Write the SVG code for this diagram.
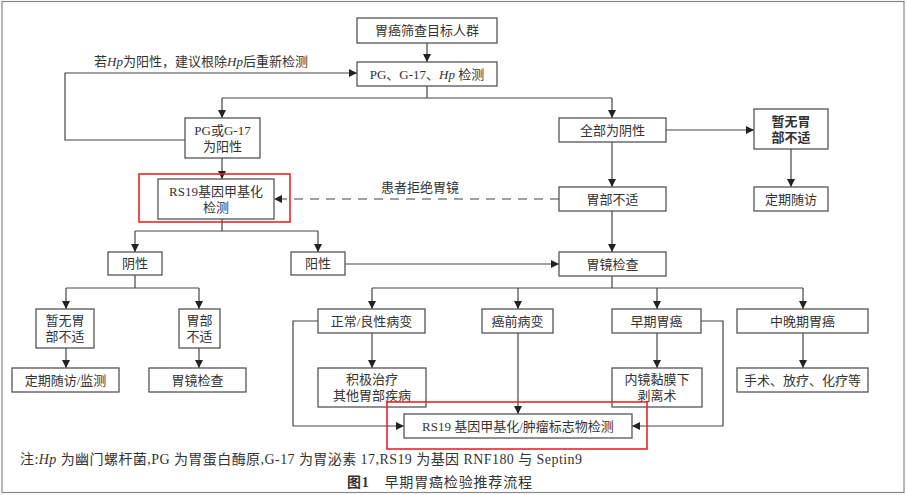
<svg xmlns="http://www.w3.org/2000/svg" width="907" height="495" viewBox="0 0 907 495">
<defs>
<marker id="arr" viewBox="0 0 10 10" refX="10" refY="5" markerWidth="8" markerHeight="8" markerUnits="userSpaceOnUse" orient="auto">
<path d="M0,0 L10,5 L0,10 z" fill="#222"/>
</marker>
<style>
.b{fill:#fff;stroke:#555;stroke-width:1.3}
.t{font-family:"Liberation Serif","Noto Sans CJK SC",serif;font-size:13px;fill:#333;text-anchor:middle;dominant-baseline:central}
.c{fill:none;stroke:#444;stroke-width:1.2}
.a{marker-end:url(#arr)}
.red{fill:none;stroke:#e8262a;stroke-width:1.6}
.i{font-style:italic}
.f{font-family:"Liberation Serif","Noto Sans CJK SC",serif;fill:#333}
</style>
</defs>
<rect width="907" height="495" fill="#fff"/>
<rect x="2" y="1.5" width="902" height="491" fill="none" stroke="#888" stroke-width="1.2"/>

<g id="connectors">
<path class="c a" d="M427,43 V62"/>
<path class="c" d="M427,86 V98 M222,98 H612"/>
<path class="c a" d="M222,98 V118"/>
<path class="c a" d="M612,98 V118"/>
<path class="c a" d="M185,140 H65 V73 H357"/>
<path class="c a" d="M666,130 H754"/>
<path class="c a" d="M791,149 V187"/>
<path class="c a" d="M612,142 V187"/>
<path class="c a" d="M222,158 V179"/>
<path class="c a" d="M559,199 H274" stroke-dasharray="9,7"/>
<path class="c" d="M222,219 V231 M135,231 H318"/>
<path class="c a" d="M135,231 V252"/>
<path class="c a" d="M318,231 V252"/>
<path class="c a" d="M345,264 H559"/>
<path class="c a" d="M612,211 V252"/>
<path class="c" d="M612,276 V288 M372,288 H803"/>
<path class="c a" d="M372,288 V309"/>
<path class="c a" d="M518,288 V309"/>
<path class="c a" d="M657,288 V309"/>
<path class="c a" d="M803,288 V309"/>
<path class="c" d="M135,275 V288 M66,288 H199"/>
<path class="c a" d="M66,288 V309"/>
<path class="c a" d="M199,288 V309"/>
<path class="c a" d="M66,348 V368"/>
<path class="c a" d="M199,348 V368"/>
<path class="c a" d="M372,333 V368"/>
<path class="c a" d="M657,333 V368"/>
<path class="c a" d="M803,333 V368"/>
<path class="c a" d="M318,321 H293 V426 H404"/>
<path class="c a" d="M518,333 V414"/>
<path class="c a" d="M701,321 H723 V426 H632"/>
<text class="t" x="201" y="61">若<tspan class="i">Hp</tspan>为阳性，建议根除<tspan class="i">Hp</tspan>后重新检测</text>
<text class="t" x="420" y="187">患者拒绝胃镜</text>
</g>

<g id="n1"><rect class="b" x="357" y="18" width="140" height="25"/><text class="t" x="427" y="30.5">胃癌筛查目标人群</text></g>
<g id="n2"><rect class="b" x="357" y="62" width="140" height="24"/><text class="t" x="427" y="74">PG、G-17、<tspan class="i">Hp</tspan> 检测</text></g>
<g id="n3"><rect class="b" x="185" y="118" width="75" height="40"/><text class="t" x="222.5" y="130">PG或G-17</text><text class="t" x="222.5" y="146">为阳性</text></g>
<g id="n4"><rect class="b" x="559" y="118" width="107" height="24"/><text class="t" x="612.5" y="130">全部为阴性</text></g>
<g id="n5"><rect class="b" x="754" y="109" width="74" height="40"/><text class="t" x="791" y="121" font-weight="bold">暂无胃</text><text class="t" x="791" y="137" font-weight="bold">部不适</text></g>
<g id="n6"><rect class="b" x="754" y="187" width="74" height="24"/><text class="t" x="791" y="199">定期随访</text></g>
<g id="n7"><rect class="b" x="559" y="187" width="107" height="24"/><text class="t" x="612.5" y="199">胃部不适</text></g>
<g id="n8"><rect class="red" x="139" y="174" width="151" height="48"/><rect class="b" x="158" y="179" width="116" height="40"/><text class="t" x="216" y="191">RS19基因甲基化</text><text class="t" x="216" y="207">检测</text></g>
<g id="n9"><rect class="b" x="108" y="252" width="54" height="23"/><text class="t" x="135" y="263.5">阴性</text></g>
<g id="n10"><rect class="b" x="291" y="252" width="54" height="23"/><text class="t" x="318" y="263.5">阳性</text></g>
<g id="n11"><rect class="b" x="559" y="252" width="107" height="24"/><text class="t" x="612.5" y="264">胃镜检查</text></g>
<g id="n12"><rect class="b" x="318" y="309" width="107" height="24"/><text class="t" x="371.5" y="321">正常/良性病变</text></g>
<g id="n13"><rect class="b" x="482" y="309" width="71" height="24"/><text class="t" x="517.5" y="321">癌前病变</text></g>
<g id="n14"><rect class="b" x="612" y="309" width="89" height="24"/><text class="t" x="656.5" y="321">早期胃癌</text></g>
<g id="n15"><rect class="b" x="737" y="309" width="131" height="24"/><text class="t" x="802.5" y="321">中晚期胃癌</text></g>
<g id="n16"><rect class="b" x="36" y="309" width="58" height="39"/><text class="t" x="65" y="320.5">暂无胃</text><text class="t" x="65" y="336.5">部不适</text></g>
<g id="n17"><rect class="b" x="179" y="309" width="41" height="39"/><text class="t" x="199.5" y="320.5">胃部</text><text class="t" x="199.5" y="336.5">不适</text></g>
<g id="n18"><rect class="b" x="12" y="368" width="107" height="24"/><text class="t" x="65.5" y="380">定期随访/监测</text></g>
<g id="n19"><rect class="b" x="149" y="368" width="97" height="24"/><text class="t" x="197.5" y="380">胃镜检查</text></g>
<g id="n20"><rect class="b" x="318" y="368" width="108" height="39"/><text class="t" x="372" y="379.5">积极治疗</text><text class="t" x="372" y="395.5">其他胃部疾病</text></g>
<g id="n21"><rect class="b" x="612" y="368" width="90" height="39"/><text class="t" x="657" y="379.5">内镜黏膜下</text><text class="t" x="657" y="395.5">剥离术</text></g>
<g id="n22"><rect class="b" x="737" y="368" width="131" height="24"/><text class="t" x="802.5" y="380">手术、放疗、化疗等</text></g>
<g id="n23"><rect class="red" x="387" y="402" width="260" height="47"/><rect class="b" x="404" y="414" width="228" height="24"/><text class="t" x="518" y="426">RS19 基因甲基化/肿瘤标志物检测</text></g>

<text class="f" x="20" y="464" font-size="14" textLength="562" lengthAdjust="spacing">注:<tspan class="i">Hp</tspan> 为幽门螺杆菌,PG 为胃蛋白酶原,G-17 为胃泌素 17,RS19 为基因 RNF180 与 Septin9</text>
<text class="f" x="347" y="487" font-size="14" textLength="185" lengthAdjust="spacing"><tspan font-weight="bold">图1</tspan>　早期胃癌检验推荐流程</text>
</svg>
